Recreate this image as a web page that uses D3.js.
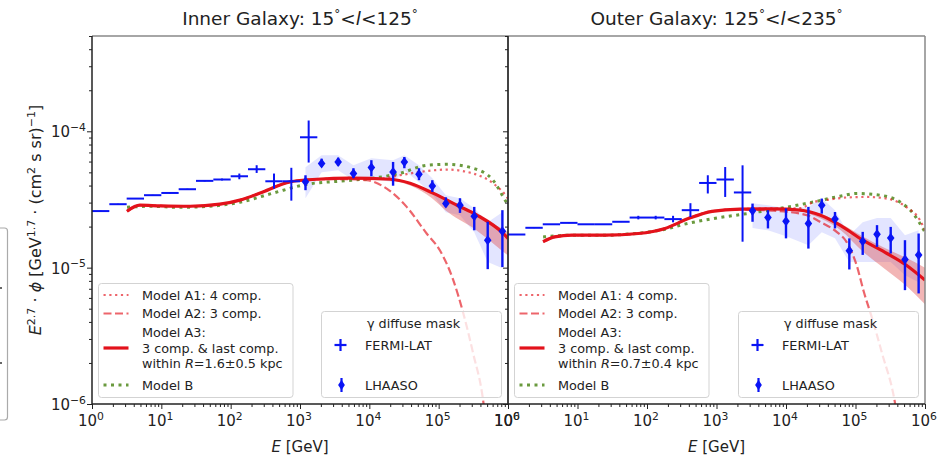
<!DOCTYPE html>
<html>
<head>
<meta charset="utf-8">
<script src="https://cdn.jsdelivr.net/npm/d3@7"></script>
<style>
  body { margin: 0; background: #fff; }
  svg { font-family: "DejaVu Sans", sans-serif; }
</style>
</head>
<body>
<svg id="chart" width="950" height="461"></svg>
<script>
// ---- data ----
const decades = [1, 10, 100, 1e3, 1e4, 1e5, 1e6];
const decadeExp = ['0', '1', '2', '3', '4', '5', '6'];
const yMajor = [1e-6, 1e-5, 1e-4];
const yMajorExp = ['\u22126', '\u22125', '\u22124'];

// Fermi-LAT energy bin edges [GeV]
const fermiEdges = [1, 1.778, 3.162, 5.623, 10, 17.78, 31.62, 56.23, 100, 177.8, 316.2, 562.3, 1000, 1778, 3162];

const fermiInnerFlux = [2.60e-5, 2.92e-5, 3.21e-5, 3.40e-5, 3.53e-5, 3.76e-5, 4.33e-5, 4.43e-5, 4.68e-5, 5.27e-5, 4.30e-5, 4.30e-5, 9.04e-5];
const fermiInnerLow  = [2.58e-5, 2.90e-5, 3.19e-5, 3.38e-5, 3.50e-5, 3.73e-5, 4.29e-5, 4.36e-5, 4.45e-5, 4.95e-5, 3.80e-5, 3.10e-5, 5.90e-5];
const fermiInnerHigh = [2.62e-5, 2.94e-5, 3.23e-5, 3.42e-5, 3.56e-5, 3.79e-5, 4.37e-5, 4.50e-5, 4.90e-5, 5.64e-5, 4.90e-5, 5.40e-5, 1.20e-4];

const fermiOuterFlux = [1.75e-5, 1.96e-5, 2.08e-5, 2.13e-5, 2.08e-5, 2.08e-5, 2.17e-5, 2.33e-5, 2.33e-5, 2.27e-5, 2.64e-5, 4.18e-5, 4.43e-5, 3.56e-5];
const fermiOuterLow  = [1.74e-5, 1.95e-5, 2.07e-5, 2.12e-5, 2.07e-5, 2.07e-5, 2.16e-5, 2.26e-5, 2.26e-5, 2.15e-5, 2.35e-5, 3.50e-5, 3.30e-5, 1.55e-5];
const fermiOuterHigh = [1.76e-5, 1.97e-5, 2.09e-5, 2.14e-5, 2.09e-5, 2.09e-5, 2.18e-5, 2.40e-5, 2.40e-5, 2.40e-5, 2.97e-5, 4.76e-5, 5.47e-5, 5.63e-5];

// LHAASO
const lhaasoInnerE    = [1.2e3, 2.05e3, 3.55e3, 5.9e3, 1.07e4, 2.2e4, 3.2e4, 5.2e4, 8.1e4, 1.27e5, 2.03e5, 3.26e5, 5.1e5, 8.3e5];
const lhaasoInnerFlux = [4.26e-5, 5.80e-5, 5.96e-5, 4.90e-5, 5.42e-5, 5.04e-5, 5.96e-5, 4.84e-5, 3.97e-5, 2.95e-5, 2.87e-5, 2.38e-5, 1.59e-5, 1.85e-5];
const lhaasoInnerLow  = [3.70e-5, 5.50e-5, 5.60e-5, 4.53e-5, 4.68e-5, 3.99e-5, 5.36e-5, 4.38e-5, 3.59e-5, 2.78e-5, 2.52e-5, 1.88e-5, 9.75e-6, 1.01e-5];
const lhaasoInnerHigh = [4.76e-5, 6.30e-5, 6.40e-5, 5.36e-5, 6.14e-5, 5.96e-5, 6.48e-5, 5.36e-5, 4.38e-5, 3.28e-5, 3.23e-5, 2.79e-5, 2.17e-5, 2.64e-5];
const lhaasoInnerSysLow  = [3.23e-5, 5.01e-5, 5.18e-5, 4.38e-5, 4.53e-5, 4.23e-5, 5.18e-5, 4.23e-5, 3.45e-5, 2.55e-5, 2.42e-5, 1.82e-5, 1.10e-5, 9.9e-6];
const lhaasoInnerSysHigh = [5.45e-5, 6.67e-5, 6.67e-5, 5.64e-5, 6.34e-5, 6.14e-5, 6.67e-5, 5.64e-5, 4.53e-5, 3.40e-5, 3.23e-5, 2.73e-5, 2.15e-5, 2.55e-5];

const lhaasoOuterE    = [3.3e3, 5.5e3, 1.0e4, 2.1e4, 3.27e4, 5.07e4, 8.15e4, 1.27e5, 2.04e5, 3.21e5, 5.15e5, 8.1e5];
const lhaasoOuterFlux = [2.61e-5, 2.33e-5, 2.19e-5, 2.11e-5, 2.87e-5, 2.27e-5, 1.33e-5, 1.56e-5, 1.76e-5, 1.65e-5, 1.15e-5, 1.24e-5];
const lhaasoOuterLow  = [2.17e-5, 1.94e-5, 1.64e-5, 1.38e-5, 2.49e-5, 1.94e-5, 9.7e-6, 1.24e-5, 1.42e-5, 1.27e-5, 6.84e-6, 6.47e-6];
const lhaasoOuterHigh = [2.95e-5, 2.64e-5, 2.72e-5, 2.79e-5, 3.21e-5, 2.56e-5, 1.64e-5, 1.83e-5, 2.05e-5, 1.99e-5, 1.59e-5, 1.78e-5];
const lhaasoOuterSysLow  = [1.95e-5, 1.88e-5, 1.70e-5, 1.46e-5, 1.82e-5, 1.64e-5, 1.10e-5, 1.10e-5, 1.10e-5, 1.10e-5, 8.8e-6, 7.8e-6];
const lhaasoOuterSysHigh = [2.97e-5, 2.87e-5, 2.73e-5, 2.78e-5, 3.23e-5, 2.64e-5, 1.73e-5, 2.15e-5, 2.31e-5, 2.31e-5, 1.73e-5, 1.88e-5];

// models, inner galaxy
const a3InnerE = [3.2, 4.9, 9.6, 26, 70, 136, 292, 718, 1760, 5260, 19900, 38600, 82800, 184000, 357000, 847000, 1e6];
const a3InnerV = [2.59e-5, 2.87e-5, 2.84e-5, 2.82e-5, 2.92e-5, 3.13e-5, 3.59e-5, 4.26e-5, 4.45e-5, 4.53e-5, 4.45e-5, 4.16e-5, 3.52e-5, 2.87e-5, 2.43e-5, 1.79e-5, 1.64e-5];
const a1InnerE = [3.2, 4.9, 9.6, 26, 70, 136, 292, 718, 1760, 5260, 14300, 27700, 53800, 132000, 313000, 608000, 968000, 1e6];
const a1InnerV = [2.59e-5, 2.87e-5, 2.84e-5, 2.82e-5, 2.92e-5, 3.13e-5, 3.59e-5, 4.26e-5, 4.45e-5, 4.55e-5, 4.50e-5, 4.76e-5, 5.04e-5, 5.24e-5, 4.90e-5, 4.16e-5, 3.28e-5, 3.20e-5];
const a2InnerE = [3.2, 4.9, 9.6, 26, 70, 136, 292, 718, 1760, 5260, 9160, 17800, 34600, 67100, 104000, 161000, 227000, 313000, 437000, 470000];
const a2InnerV = [2.59e-5, 2.87e-5, 2.84e-5, 2.82e-5, 2.92e-5, 3.13e-5, 3.59e-5, 4.26e-5, 4.45e-5, 4.45e-5, 4.38e-5, 3.80e-5, 2.79e-5, 1.78e-5, 1.34e-5, 8.2e-6, 4.61e-6, 2.37e-6, 1.07e-6, 8.0e-7];
const bInnerE = [3.2, 6.9, 18.6, 50, 136, 408, 1260, 3780, 11300, 27700, 67900, 132000, 313000, 608000, 968000, 1e6];
const bInnerV = [2.77e-5, 2.82e-5, 2.77e-5, 2.82e-5, 3.02e-5, 3.52e-5, 4.09e-5, 4.31e-5, 4.53e-5, 4.92e-5, 5.64e-5, 5.73e-5, 5.36e-5, 4.38e-5, 2.97e-5, 2.90e-5];
const a3InnerBandE  = [19900, 39800, 79400, 126000, 316000, 794000, 1e6];
const a3InnerBandHi = [4.47e-5, 4.22e-5, 3.63e-5, 3.24e-5, 2.51e-5, 1.95e-5, 1.82e-5];
const a3InnerBandLo = [4.42e-5, 3.98e-5, 3.24e-5, 2.63e-5, 1.95e-5, 1.35e-5, 1.23e-5];

// models, outer galaxy
const a3OuterE = [3.2, 4.7, 8.3, 25, 75, 182, 393, 861, 2180, 6300, 15900, 30800, 59800, 128000, 284000, 515000, 1e6];
const a3OuterV = [1.55e-5, 1.68e-5, 1.73e-5, 1.73e-5, 1.78e-5, 1.94e-5, 2.29e-5, 2.59e-5, 2.69e-5, 2.70e-5, 2.64e-5, 2.43e-5, 2.05e-5, 1.59e-5, 1.27e-5, 1.06e-5, 8.1e-6];
const a1OuterE = [3.2, 4.7, 8.3, 25, 75, 182, 393, 861, 2180, 6300, 15900, 24700, 43000, 74600, 145000, 281000, 546000, 847000, 1e6];
const a1OuterV = [1.55e-5, 1.68e-5, 1.73e-5, 1.73e-5, 1.78e-5, 1.94e-5, 2.29e-5, 2.59e-5, 2.69e-5, 2.72e-5, 2.73e-5, 3.02e-5, 3.16e-5, 3.27e-5, 3.30e-5, 3.21e-5, 2.77e-5, 2.23e-5, 1.88e-5];
const a2OuterE = [3.2, 4.7, 8.3, 25, 75, 182, 393, 861, 2180, 6300, 19900, 30800, 53600, 74600, 104000, 132000, 173000, 240000, 370000, 400000];
const a2OuterV = [1.55e-5, 1.68e-5, 1.73e-5, 1.73e-5, 1.78e-5, 1.94e-5, 2.29e-5, 2.59e-5, 2.67e-5, 2.62e-5, 2.43e-5, 2.17e-5, 1.83e-5, 1.54e-5, 1.04e-5, 6.62e-6, 4.27e-6, 2.37e-6, 1.02e-6, 8.0e-7];
const bOuterE = [3.2, 8.3, 25, 75, 182, 340, 900, 2720, 8200, 24700, 59800, 104000, 225000, 437000, 679000, 1e6];
const bOuterV = [1.68e-5, 1.73e-5, 1.73e-5, 1.79e-5, 1.91e-5, 2.08e-5, 2.29e-5, 2.49e-5, 2.72e-5, 3.03e-5, 3.34e-5, 3.50e-5, 3.40e-5, 3.03e-5, 2.49e-5, 1.82e-5];
const a3OuterBandE  = [15900, 31600, 63100, 126000, 251000, 501000, 1e6];
const a3OuterBandHi = [2.66e-5, 2.48e-5, 2.09e-5, 1.70e-5, 1.41e-5, 1.20e-5, 1.00e-5];
const a3OuterBandLo = [2.60e-5, 2.29e-5, 1.86e-5, 1.32e-5, 1.00e-5, 7.6e-6, 5.4e-6];

// ---- layout ----
const svg = d3.select('#chart');
const yTop = 36, yBot = 404;
const y = d3.scaleLog().domain([1e-6, 5e-4]).range([yBot, yTop]);

const RED = '#e3121b', BLUE = '#0a14f5', GREEN = '#6a9a3e';

const zip = (es, vs) => es.map((e, i) => ({ e, v: vs[i] }));

const panels = [
  {
    id: 'inner', x0: 92, x1: 508,
    title: ['Inner Galaxy: 15', '125'], radius: '1.6\u00b10.5',
    fermiN: 13, fermiFlux: fermiInnerFlux, fermiLow: fermiInnerLow, fermiHigh: fermiInnerHigh,
    lhE: lhaasoInnerE, lhV: lhaasoInnerFlux, lhLo: lhaasoInnerLow, lhHi: lhaasoInnerHigh,
    sysLo: lhaasoInnerSysLow, sysHi: lhaasoInnerSysHigh,
    a1: zip(a1InnerE, a1InnerV), a2: zip(a2InnerE, a2InnerV), a3: zip(a3InnerE, a3InnerV), b: zip(bInnerE, bInnerV),
    band: a3InnerBandE.map((e, i) => ({ e, lo: a3InnerBandLo[i], hi: a3InnerBandHi[i] })),
    yLabels: true
  },
  {
    id: 'outer', x0: 508, x1: 925,
    title: ['Outer Galaxy: 125', '235'], radius: '0.7\u00b10.4',
    fermiN: 14, fermiFlux: fermiOuterFlux, fermiLow: fermiOuterLow, fermiHigh: fermiOuterHigh,
    lhE: lhaasoOuterE, lhV: lhaasoOuterFlux, lhLo: lhaasoOuterLow, lhHi: lhaasoOuterHigh,
    sysLo: lhaasoOuterSysLow, sysHi: lhaasoOuterSysHigh,
    a1: zip(a1OuterE, a1OuterV), a2: zip(a2OuterE, a2OuterV), a3: zip(a3OuterE, a3OuterV), b: zip(bOuterE, bOuterV),
    band: a3OuterBandE.map((e, i) => ({ e, lo: a3OuterBandLo[i], hi: a3OuterBandHi[i] })),
    yLabels: false
  }
];

// stray legend edge from the neighbouring figure
svg.append('rect').attr('x', -10).attr('y', 228).attr('width', 17.5).attr('height', 192)
  .attr('rx', 3).attr('fill', 'none').attr('stroke', '#aaa').attr('stroke-width', 1.2);
svg.append('rect').attr('x', 0).attr('y', 287).attr('width', 2).attr('height', 2).attr('fill', '#666');
svg.append('rect').attr('x', 0).attr('y', 362).attr('width', 2).attr('height', 2).attr('fill', '#666');

// superscript helper: shift in px so the baseline is restored exactly
function supSpan(text, exp, size, shift) {
  text.append('tspan').attr('dy', -shift).attr('font-size', size).text(exp);
  return text.append('tspan').attr('dy', shift);
}
function pow10(text, exp, size) {
  text.append('tspan').text('10');
  supSpan(text, exp, size * 0.72, size * 0.42);
}

panels.forEach(p => {
  const x = d3.scaleLog().domain([1, 1e6]).range([p.x0, p.x1]);
  const g = svg.append('g');

  g.append('clipPath').attr('id', 'clip-' + p.id)
    .append('rect').attr('x', p.x0).attr('y', yTop).attr('width', p.x1 - p.x0).attr('height', yBot - yTop);
  const plot = g.append('g').attr('clip-path', `url(#clip-${p.id})`);

  // LHAASO systematic band
  const sys = p.lhE.map((e, i) => ({ e, lo: p.sysLo[i], hi: p.sysHi[i] }));
  plot.append('path').datum(sys)
    .attr('fill', 'rgba(90,100,255,0.17)')
    .attr('d', d3.area().x(d => x(d.e)).y0(d => y(d.lo)).y1(d => y(d.hi)));

  // model A3 band
  plot.append('path').datum(p.band)
    .attr('fill', 'rgba(222,60,60,0.38)')
    .attr('d', d3.area().x(d => x(d.e)).y0(d => y(d.lo)).y1(d => y(d.hi)).curve(d3.curveMonotoneX));

  const line = d3.line().x(d => x(d.e)).y(d => y(d.v)).curve(d3.curveMonotoneX);
  plot.append('path').datum(p.b).attr('d', line).attr('fill', 'none')
    .attr('stroke', GREEN).attr('stroke-width', 3).attr('stroke-dasharray', '3,4.5');
  plot.append('path').datum(p.a1).attr('d', line).attr('fill', 'none')
    .attr('stroke', RED).attr('stroke-opacity', 0.65).attr('stroke-width', 2.2).attr('stroke-dasharray', '2.2,3.6');
  plot.append('path').datum(p.a2).attr('d', line).attr('fill', 'none')
    .attr('stroke', RED).attr('stroke-opacity', 0.65).attr('stroke-width', 2.2).attr('stroke-dasharray', '8,3.5');
  plot.append('path').datum(p.a3).attr('d', line).attr('fill', 'none')
    .attr('stroke', RED).attr('stroke-width', 3.2);

  // Fermi-LAT crosses
  const fermi = p.fermiFlux.map((v, i) => ({
    lo: fermiEdges[i], hi: fermiEdges[i + 1], c: Math.sqrt(fermiEdges[i] * fermiEdges[i + 1]),
    v, vlo: p.fermiLow[i], vhi: p.fermiHigh[i]
  })).slice(0, p.fermiN);
  const fg = plot.append('g').attr('stroke', BLUE).attr('stroke-width', 2);
  fg.selectAll('.fh').data(fermi).join('line').attr('class', 'fh')
    .attr('x1', d => x(d.lo)).attr('x2', d => x(d.hi)).attr('y1', d => y(d.v)).attr('y2', d => y(d.v));
  fg.selectAll('.fv').data(fermi).join('line').attr('class', 'fv')
    .attr('x1', d => x(d.c)).attr('x2', d => x(d.c)).attr('y1', d => y(d.vlo)).attr('y2', d => y(d.vhi));

  // LHAASO points
  const lh = p.lhE.map((e, i) => ({ e, v: p.lhV[i], lo: p.lhLo[i], hi: p.lhHi[i] }));
  const lg = plot.append('g');
  lg.selectAll('.lv').data(lh).join('line').attr('class', 'lv')
    .attr('stroke', BLUE).attr('stroke-width', 2.4)
    .attr('x1', d => x(d.e)).attr('x2', d => x(d.e)).attr('y1', d => y(d.lo)).attr('y2', d => y(d.hi));
  lg.selectAll('.lm').data(lh).join('path').attr('class', 'lm').attr('fill', BLUE)
    .attr('transform', d => `translate(${x(d.e)},${y(d.v)})`)
    .attr('d', 'M0,-5L3.8,0L0,5L-3.8,0Z');

  // ---- legends ----
  const L = p.x0 + 6.5;
  const leg = g.append('g');
  leg.append('rect').attr('x', L).attr('y', 283.5).attr('width', 194.5).attr('height', 114)
    .attr('rx', 3).attr('fill', '#fff').attr('fill-opacity', 0.8).attr('stroke', '#d3d3d3');
  const entries = [
    { y: 295, dash: '2.2,3.6', w: 2.2, c: RED, o: 0.65, lines: ['Model A1: 4 comp.'] },
    { y: 313.5, dash: '8,3.5', w: 2.2, c: RED, o: 0.65, lines: ['Model A2: 3 comp.'] },
    { y: 348, dash: null, w: 3.2, c: RED, o: 1, lines: ['Model A3:', '3 comp. & last comp.', null] },
    { y: 385, dash: '3,4.5', w: 3, c: GREEN, o: 1, lines: ['Model B'] }
  ];
  entries.forEach(en => {
    leg.append('line').attr('x1', L + 5).attr('x2', L + 30).attr('y1', en.y).attr('y2', en.y)
      .attr('stroke', en.c).attr('stroke-opacity', en.o).attr('stroke-width', en.w)
      .attr('stroke-dasharray', en.dash);
    const n = en.lines.length;
    en.lines.forEach((s, k) => {
      const t = leg.append('text').attr('x', L + 43.5).attr('y', en.y + (k - (n - 1) / 2) * 15.5 + 4.5)
        .attr('font-size', 12.8).attr('fill', '#222');
      if (s === null) {
        t.append('tspan').text('within ');
        t.append('tspan').attr('font-style', 'italic').text('R');
        t.append('tspan').text('=' + p.radius + ' kpc');
      } else t.text(s);
    });
  });

  const R = p.x1 - 186.5;
  leg.append('rect').attr('x', R).attr('y', 311.5).attr('width', 180).attr('height', 86)
    .attr('rx', 3).attr('fill', '#fff').attr('fill-opacity', 0.8).attr('stroke', '#d3d3d3');
  leg.append('text').attr('x', R + 92).attr('y', 327.5).attr('text-anchor', 'middle')
    .attr('font-size', 12.8).attr('fill', '#222').text('\u03b3 diffuse mask');
  const mk = leg.append('g').attr('stroke', BLUE).attr('stroke-width', 2.2);
  mk.append('line').attr('x1', R + 13).attr('x2', R + 25).attr('y1', 345).attr('y2', 345);
  mk.append('line').attr('x1', R + 19).attr('x2', R + 19).attr('y1', 339).attr('y2', 351);
  mk.append('line').attr('x1', R + 20).attr('x2', R + 20).attr('y1', 378).attr('y2', 392);
  leg.append('path').attr('fill', BLUE).attr('transform', `translate(${R + 20},385)`)
    .attr('d', 'M0,-5L3.4,0L0,5L-3.4,0Z');
  leg.append('text').attr('x', R + 43.5).attr('y', 349.5).attr('font-size', 12.8).attr('fill', '#222').text('FERMI-LAT');
  leg.append('text').attr('x', R + 43.5).attr('y', 389.5).attr('font-size', 12.8).attr('fill', '#222').text('LHAASO');

  // ---- axes ----
  const minorX = [];
  decades.slice(0, -1).forEach(d => { for (let m = 2; m < 10; m++) minorX.push(d * m); });
  const minorY = [];
  [1e-6, 1e-5, 1e-4].forEach(d => { for (let m = 2; m < 10; m++) if (d * m <= 5e-4) minorY.push(d * m); });

  const ax = g.append('g').attr('transform', `translate(0,${yBot})`);
  ax.call(d3.axisBottom(x).tickValues(decades).tickSize(5).tickFormat(''));
  ax.append('g').call(d3.axisBottom(x).tickValues(minorX).tickSize(3).tickFormat(''));
  ax.selectAll('.domain').remove();
  ax.selectAll('line').attr('stroke', '#222').attr('stroke-width', 1);

  const ay = g.append('g').attr('transform', `translate(${p.x0},0)`);
  ay.call(d3.axisLeft(y).tickValues(yMajor).tickSize(5).tickFormat(''));
  ay.append('g').call(d3.axisLeft(y).tickValues(minorY).tickSize(3).tickFormat(''));
  ay.selectAll('.domain').remove();
  ay.selectAll('line').attr('stroke', '#222').attr('stroke-width', 1);

  decades.forEach((d, i) => {
    const t = g.append('text').attr('x', x(d) - 1).attr('y', 426).attr('text-anchor', 'middle')
      .attr('font-size', 15).attr('fill', '#222');
    pow10(t, decadeExp[i], 15);
  });
  if (p.yLabels) {
    yMajor.forEach((v, i) => {
      const t = g.append('text').attr('x', p.x0 - 6).attr('y', y(v) + 6).attr('text-anchor', 'end')
        .attr('font-size', 15).attr('fill', '#222');
      pow10(t, yMajorExp[i], 15);
    });
  }

  const xl = g.append('text').attr('x', (p.x0 + p.x1) / 2).attr('y', 452).attr('text-anchor', 'middle')
    .attr('font-size', 15).attr('fill', '#222');
  xl.append('tspan').attr('font-style', 'italic').text('E');
  xl.append('tspan').text(' [GeV]');

  const tt = g.append('text').attr('x', (p.x0 + p.x1) / 2).attr('y', 25).attr('text-anchor', 'middle')
    .attr('font-size', 18.5).attr('fill', '#222');
  tt.append('tspan').text(p.title[0]);
  supSpan(tt, '\u00b0', 12, 7).text('<');
  tt.append('tspan').attr('font-style', 'italic').text('l');
  tt.append('tspan').text('<' + p.title[1]);
  supSpan(tt, '\u00b0', 12, 7);

  // spines
  g.append('line').attr('x1', p.x0).attr('x2', p.x1).attr('y1', yTop).attr('y2', yTop).attr('stroke', '#888').attr('stroke-width', 1.5);
  g.append('line').attr('x1', p.x1).attr('x2', p.x1).attr('y1', yTop).attr('y2', yBot).attr('stroke', '#888').attr('stroke-width', 1.5);
  g.append('line').attr('x1', p.x0).attr('x2', p.x1).attr('y1', yBot).attr('y2', yBot).attr('stroke', '#222').attr('stroke-width', 1.5);
  g.append('line').attr('x1', p.x0).attr('x2', p.x0).attr('y1', yTop).attr('y2', yBot).attr('stroke', '#222').attr('stroke-width', 1.5);
});

// shared y label
const yl = svg.append('text').attr('transform', 'translate(41,220) rotate(-90)').attr('text-anchor', 'middle')
  .attr('font-size', 16).attr('fill', '#222');
yl.append('tspan').attr('font-style', 'italic').text('E');
supSpan(yl, '2.7', 11, 6.5).text(' \u00b7 ');
yl.append('tspan').attr('font-style', 'italic').text('\u03d5');
yl.append('tspan').text(' [GeV');
supSpan(yl, '1.7', 11, 6.5).text(' \u00b7  (cm');
supSpan(yl, '2', 11, 6.5).text(' s sr)');
supSpan(yl, '\u22121', 11, 6.5).text(']');
</script>
</body>
</html>
